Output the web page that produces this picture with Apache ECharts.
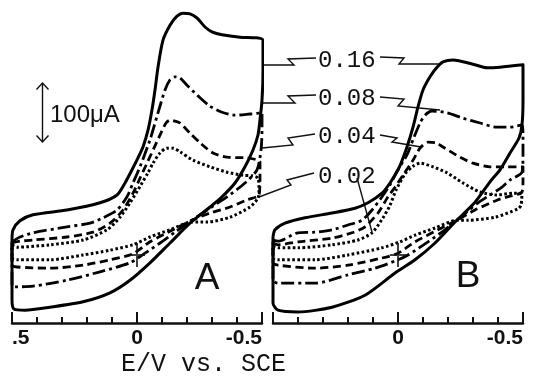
<!DOCTYPE html>
<html>
<head>
<meta charset="utf-8">
<script src="https://cdn.jsdelivr.net/npm/echarts@6/dist/echarts.min.js"></script>
<style>
html,body{margin:0;padding:0;background:#fff;}
#chart{width:533px;height:376px;}
</style>
</head>
<body>
<div id="chart"></div>
<script>
// Potential E (V vs. SCE), current I (microampere); each loop: forward scan then reverse scan
const rateLabels = ['0.16', '0.08', '0.04', '0.02'];
const tickLabelsA = ['.5', '0', '-0.5'];
const tickLabelsB = ['', '0', '-0.5'];

const solidA = [[0.5,25],[0.496,42],[0.468,57],[0.416,67],[0.28,75],[0.148,87],[0.08,100],[0.048,120],[0.02,142],[-0.004,162],[-0.024,180],[-0.044,208],[-0.06,242],[-0.072,275],[-0.084,313],[-0.104,358],[-0.132,383],[-0.16,398],[-0.184,403],[-0.212,402],[-0.24,395],[-0.272,380],[-0.3,372],[-0.34,367],[-0.412,363],[-0.476,362],[-0.504,358],[-0.504,308],[-0.5,258],[-0.492,225],[-0.484,200],[-0.464,175],[-0.432,147],[-0.392,120],[-0.34,97],[-0.292,80],[-0.212,53],[-0.132,20],[-0.052,-13],[0.028,-42],[0.108,-63],[0.216,-78],[0.348,-87],[0.448,-92],[0.492,-90],[0.5,-75],[0.5,-8],[0.5,25]];
const dashDotA = [[0.5,22],[0.468,30],[0.416,37],[0.28,47],[0.188,53],[0.136,62],[0.08,75],[0.04,97],[0.016,120],[-0.012,147],[-0.052,192],[-0.084,237],[-0.112,275],[-0.132,292],[-0.152,297],[-0.172,295],[-0.2,283],[-0.252,262],[-0.292,248],[-0.34,238],[-0.392,233],[-0.452,235],[-0.5,237],[-0.5,208],[-0.496,175],[-0.48,142],[-0.432,120],[-0.36,97],[-0.28,75],[-0.22,58],[-0.152,38],[-0.092,20],[-0.032,3],[0.028,-13],[0.148,-28],[0.28,-42],[0.416,-52],[0.488,-53],[0.5,-50],[0.5,-8],[0.5,22]];
const dashedA = [[0.5,20],[0.468,23],[0.416,25],[0.28,30],[0.176,38],[0.108,53],[0.056,75],[0.016,103],[-0.012,128],[-0.04,153],[-0.072,182],[-0.1,207],[-0.116,220],[-0.132,225],[-0.152,223],[-0.172,220],[-0.212,203],[-0.252,187],[-0.304,170],[-0.36,163],[-0.44,162],[-0.484,158],[-0.492,155],[-0.492,128],[-0.488,100],[-0.44,92],[-0.372,80],[-0.292,70],[-0.22,58],[-0.144,42],[-0.052,22],[0.016,2],[0.108,-8],[0.216,-17],[0.348,-22],[0.48,-20],[0.5,-17],[0.5,20]];
const dottedA = [[0.5,17],[0.48,13],[0.348,17],[0.216,25],[0.12,42],[0.068,63],[0.028,87],[-0.016,117],[-0.044,137],[-0.064,153],[-0.092,170],[-0.12,178],[-0.144,178],[-0.172,172],[-0.224,158],[-0.292,147],[-0.36,138],[-0.424,133],[-0.46,132],[-0.484,128],[-0.488,108],[-0.484,95],[-0.452,80],[-0.372,63],[-0.28,55],[-0.22,55],[-0.132,42],[-0.052,30],[0.016,17],[0.108,8],[0.216,0],[0.348,-8],[0.48,-8],[0.5,-5],[0.5,17]];

const solidB = [[0.5,30],[0.492,42],[0.452,53],[0.372,62],[0.264,70],[0.172,78],[0.12,87],[0.064,103],[0.032,120],[0,142],[-0.012,153],[-0.036,180],[-0.06,213],[-0.08,247],[-0.1,275],[-0.128,297],[-0.156,313],[-0.18,322],[-0.22,325],[-0.3,318],[-0.356,312],[-0.408,313],[-0.5,317],[-0.5,258],[-0.496,217],[-0.484,195],[-0.448,170],[-0.408,142],[-0.368,122],[-0.308,88],[-0.228,55],[-0.148,20],[-0.068,-8],[0.012,-30],[0.132,-67],[0.264,-87],[0.4,-95],[0.48,-92],[0.5,-80],[0.5,-8],[0.5,30]];
const dashDotB = [[0.5,25],[0.48,23],[0.4,37],[0.332,38],[0.264,42],[0.2,50],[0.144,58],[0.104,75],[0.064,97],[0.032,117],[0,142],[-0.036,167],[-0.06,192],[-0.088,220],[-0.108,233],[-0.136,240],[-0.196,237],[-0.26,228],[-0.328,220],[-0.396,213],[-0.448,213],[-0.496,217],[-0.5,200],[-0.5,167],[-0.496,138],[-0.448,125],[-0.416,113],[-0.368,100],[-0.32,87],[-0.276,72],[-0.236,58],[-0.188,42],[-0.12,22],[-0.04,0],[0,-8],[0.092,-22],[0.2,-33],[0.332,-47],[0.48,-47],[0.5,-42],[0.5,25]];
const dashedB = [[0.5,20],[0.48,17],[0.4,22],[0.264,28],[0.184,37],[0.132,47],[0.08,70],[0.04,97],[0.012,113],[-0.02,133],[-0.06,158],[-0.088,178],[-0.12,188],[-0.152,187],[-0.18,180],[-0.248,163],[-0.3,153],[-0.368,147],[-0.436,147],[-0.5,147],[-0.5,125],[-0.496,105],[-0.448,98],[-0.4,92],[-0.308,75],[-0.236,58],[-0.16,42],[-0.068,22],[0,3],[0.064,-5],[0.2,-17],[0.332,-22],[0.48,-17],[0.5,-13],[0.5,20]];
const dottedB = [[0.5,15],[0.48,12],[0.4,12],[0.264,17],[0.16,25],[0.104,37],[0.06,62],[0.032,83],[0.008,108],[-0.028,135],[-0.06,148],[-0.088,153],[-0.14,147],[-0.196,137],[-0.26,120],[-0.328,105],[-0.396,100],[-0.46,103],[-0.496,102],[-0.492,83],[-0.48,77],[-0.388,63],[-0.28,58],[-0.236,58],[-0.148,45],[-0.068,33],[-0.008,22],[0.064,12],[0.2,0],[0.332,-8],[0.48,-8],[0.5,-5],[0.5,15]];

const origin = [[0, 0]];

const INK = '#111';
const chart = echarts.init(document.getElementById('chart'), null, {renderer: 'canvas'});

function baseAxis(grid) {
  return {
    gridIndex: grid, type: 'value', min: -0.5, max: 0.5, inverse: true, position: 'bottom',
    splitLine: {show: false}
  };
}
function minorAxis(grid) {
  return Object.assign(baseAxis(grid), {
    interval: 0.1,
    axisLine: {show: true, onZero: false, lineStyle: {color: INK, width: 2.5}},
    axisTick: {show: true, inside: true, length: 6, lineStyle: {color: INK, width: 2}},
    axisLabel: {show: false}
  });
}
function majorAxis(grid, labels) {
  return Object.assign(baseAxis(grid), {
    interval: 0.5,
    axisLine: {show: false, onZero: false},
    axisTick: {show: true, inside: true, length: 11, lineStyle: {color: INK, width: 2}},
    axisLabel: {
      show: true, margin: 5, color: INK, fontFamily: 'Liberation Sans', fontWeight: 'bold', fontSize: 21,
      alignMinLabel: 'right', alignMaxLabel: 'left',
      formatter: function (v) {
        if (Math.abs(v - 0.5) < 1e-9) return labels[0];
        if (Math.abs(v) < 1e-9) return labels[1];
        return labels[2];
      }
    }
  });
}
function yAx(grid) {
  return {gridIndex: grid, type: 'value', min: -113.333, max: 416.667, show: false};
}
function loop(data, xi, yi, type, width) {
  return {
    type: 'line', data: data, xAxisIndex: xi, yAxisIndex: yi, showSymbol: false, smooth: 0.25,
    clip: false, silent: true, animation: false,
    lineStyle: {color: '#000', width: width, type: type, cap: 'butt', join: 'round'}
  };
}
const plusSymbol = 'path://M7,0h2v11h7v2h-7v11h-2v-11h-7v-2h7z';
function plus(xi, yi) {
  return {type: 'scatter', data: origin, xAxisIndex: xi, yAxisIndex: yi, symbol: plusSymbol,
    symbolSize: [16, 24], itemStyle: {color: INK}, silent: true, animation: false, z: 5};
}

const DASHDOT = [13, 4, 3, 4];
const DASHED = [8, 4.5];
const DOTTED = [2.6, 2.4];

function lineEl(points) {
  return {type: 'polyline', shape: {points: points}, style: {stroke: INK, lineWidth: 1.4, fill: null}, silent: true};
}
function textEl(text, x, y, font, align) {
  return {type: 'text', x: x, y: y, silent: true,
    style: {text: text, font: font, fill: INK, textAlign: align || 'left', textVerticalAlign: 'middle'}};
}

const option = {
  backgroundColor: '#fff',
  animation: false,
  grid: [
    {left: 12, top: 5, width: 250, height: 318},
    {left: 273, top: 5, width: 250, height: 318}
  ],
  xAxis: [minorAxis(0), majorAxis(0, tickLabelsA), minorAxis(1), majorAxis(1, tickLabelsB)],
  yAxis: [yAx(0), yAx(1)],
  series: [
    loop(solidA, 0, 0, 'solid', 3),
    loop(dashDotA, 0, 0, DASHDOT, 2.8),
    loop(dashedA, 0, 0, DASHED, 2.8),
    loop(dottedA, 0, 0, DOTTED, 3),
    loop(solidB, 2, 1, 'solid', 3),
    loop(dashDotB, 2, 1, DASHDOT, 2.8),
    loop(dashedB, 2, 1, DASHED, 2.8),
    loop(dottedB, 2, 1, DOTTED, 3),
    plus(0, 0),
    plus(2, 1)
  ],
  graphic: [
    // current scale bar
    lineEl([[42.5, 83], [42.5, 142]]),
    lineEl([[36.5, 89.5], [42.5, 83], [48.5, 89.5]]),
    lineEl([[36.5, 135.5], [42.5, 142], [48.5, 135.5]]),
    textEl('100\u03bcA', 50, 115, '24px "Liberation Sans"'),
    // scan-rate labels
    textEl(rateLabels[0], 318, 61, '24px "Liberation Mono"'),
    textEl(rateLabels[1], 318, 99, '24px "Liberation Mono"'),
    textEl(rateLabels[2], 318, 137, '24px "Liberation Mono"'),
    textEl(rateLabels[3], 318, 177, '24px "Liberation Mono"'),
    // leaders to panel A
    lineEl([[264, 65], [294, 65], [288, 59], [316, 58]]),
    lineEl([[263, 103], [295, 103], [288, 96], [316, 95]]),
    lineEl([[262, 148], [293, 145], [288, 138], [315, 134]]),
    lineEl([[259, 197], [291, 185], [287, 180], [314, 173]]),
    // leaders to panel B
    lineEl([[380, 57], [404, 58], [399, 64], [441, 64]]),
    lineEl([[380, 97], [404, 99], [398, 106], [440, 110]]),
    lineEl([[380, 135], [397, 138], [392, 142], [421, 147]]),
    lineEl([[357, 178], [372, 232]]),
    // panel letters
    textEl('A', 207, 279, '37px "Liberation Sans"', 'center'),
    textEl('B', 468, 277, '37px "Liberation Sans"', 'center'),
    // axis title
    textEl('E/V vs. SCE', 121, 364, '25px "Liberation Mono"')
  ]
};
chart.setOption(option);
</script>
</body>
</html>
